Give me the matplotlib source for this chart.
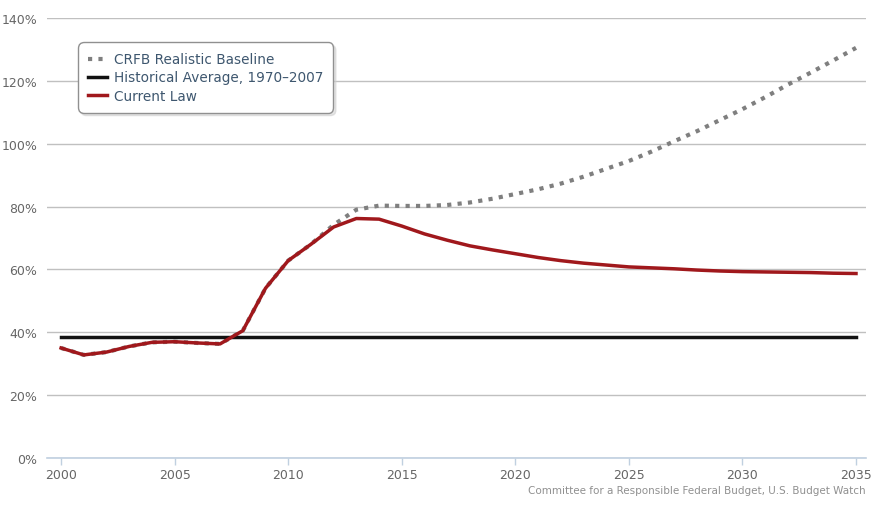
import numpy as np
import matplotlib.pyplot as plt

plt.rcParams['font.family'] = 'DejaVu Sans'

# ---- data (debt held by public, % of GDP) ----
years = list(range(2000, 2036))
current_law = [35.0, 32.8, 33.7, 35.5, 36.8, 37.0, 36.6, 36.3, 40.5, 54.0,
               62.8, 68.0, 73.5, 76.2, 76.0, 73.8, 71.3, 69.3, 67.5, 66.2,
               65.0, 63.8, 62.8, 62.0, 61.4, 60.8, 60.5, 60.2, 59.8, 59.5,
               59.3, 59.2, 59.1, 59.0, 58.8, 58.7]
crfb_baseline = [35.0, 32.8, 33.7, 35.5, 36.8, 37.0, 36.6, 36.3, 40.5, 54.0,
                 62.8, 68.0, 74.2, 79.0, 80.3, 80.2, 80.2, 80.5, 81.3, 82.5,
                 84.0, 85.5, 87.3, 89.5, 92.0, 94.5, 97.5, 100.8, 104.0, 107.5,
                 111.0, 114.8, 118.8, 122.6, 126.5, 130.5]
hist_avg = 38.5
hist_years = [2000, 2035]

fig = plt.figure(figsize=(8.89, 5.06), dpi=100)
ax = fig.add_axes([47/889, 47/506, 819/889, 440/506])

ax.plot(years, crfb_baseline, color='#7f7f7f', lw=3.0, linestyle=(0, (1, 1.5)),
        dash_capstyle='butt', label='CRFB Realistic Baseline', zorder=3)
ax.plot(hist_years, [hist_avg, hist_avg], color='#111111', lw=2.5,
        label='Historical Average, 1970\u20132007', zorder=4)
ax.plot(years, current_law, color='#A0181C', lw=2.5, label='Current Law',
        solid_joinstyle='round', zorder=5)

ax.set_xlim(1999.38, 2035.44)
ax.set_ylim(0, 140)
ax.set_yticks(np.arange(0, 141, 20))
ax.set_yticklabels([f'{v}%' for v in range(0, 141, 20)])
ax.set_xticks(range(2000, 2036, 5))

ax.grid(axis='y', color='#C0C0C0', lw=1)
ax.set_axisbelow(True)
for s in ['top', 'right', 'left']:
    ax.spines[s].set_visible(False)
ax.spines['bottom'].set_color('#C0D0E0')
ax.spines['bottom'].set_linewidth(1.2)
ax.spines['bottom'].set_zorder(6)

ax.tick_params(axis='y', length=0, pad=7, labelcolor='#666666', labelsize=9)
ax.tick_params(axis='x', direction='out', length=5, color='#C0D0E0', width=1,
               labelcolor='#666666', labelsize=9, pad=2)

leg = ax.legend(loc='upper left', bbox_to_anchor=(0.038, 0.945), borderaxespad=0,
                frameon=True, fancybox=True, fontsize=9.8, handlelength=1.4,
                handletextpad=0.45, labelspacing=0.3, borderpad=0.75,
                shadow={'color': '#cccccc', 'ox': 2, 'oy': -2})
leg.get_frame().set_edgecolor('#909090')
leg.get_frame().set_linewidth(1)
leg.get_frame().set_boxstyle('round', pad=0, rounding_size=0.4)
for t in leg.get_texts():
    t.set_color('#3E576F')

fig.text(866/889, 1 - 491/506,
         'Committee for a Responsible Federal Budget, U.S. Budget Watch',
         ha='right', va='center', fontsize=7.5, color='#909090')

fig.savefig('out.png', dpi=100)
